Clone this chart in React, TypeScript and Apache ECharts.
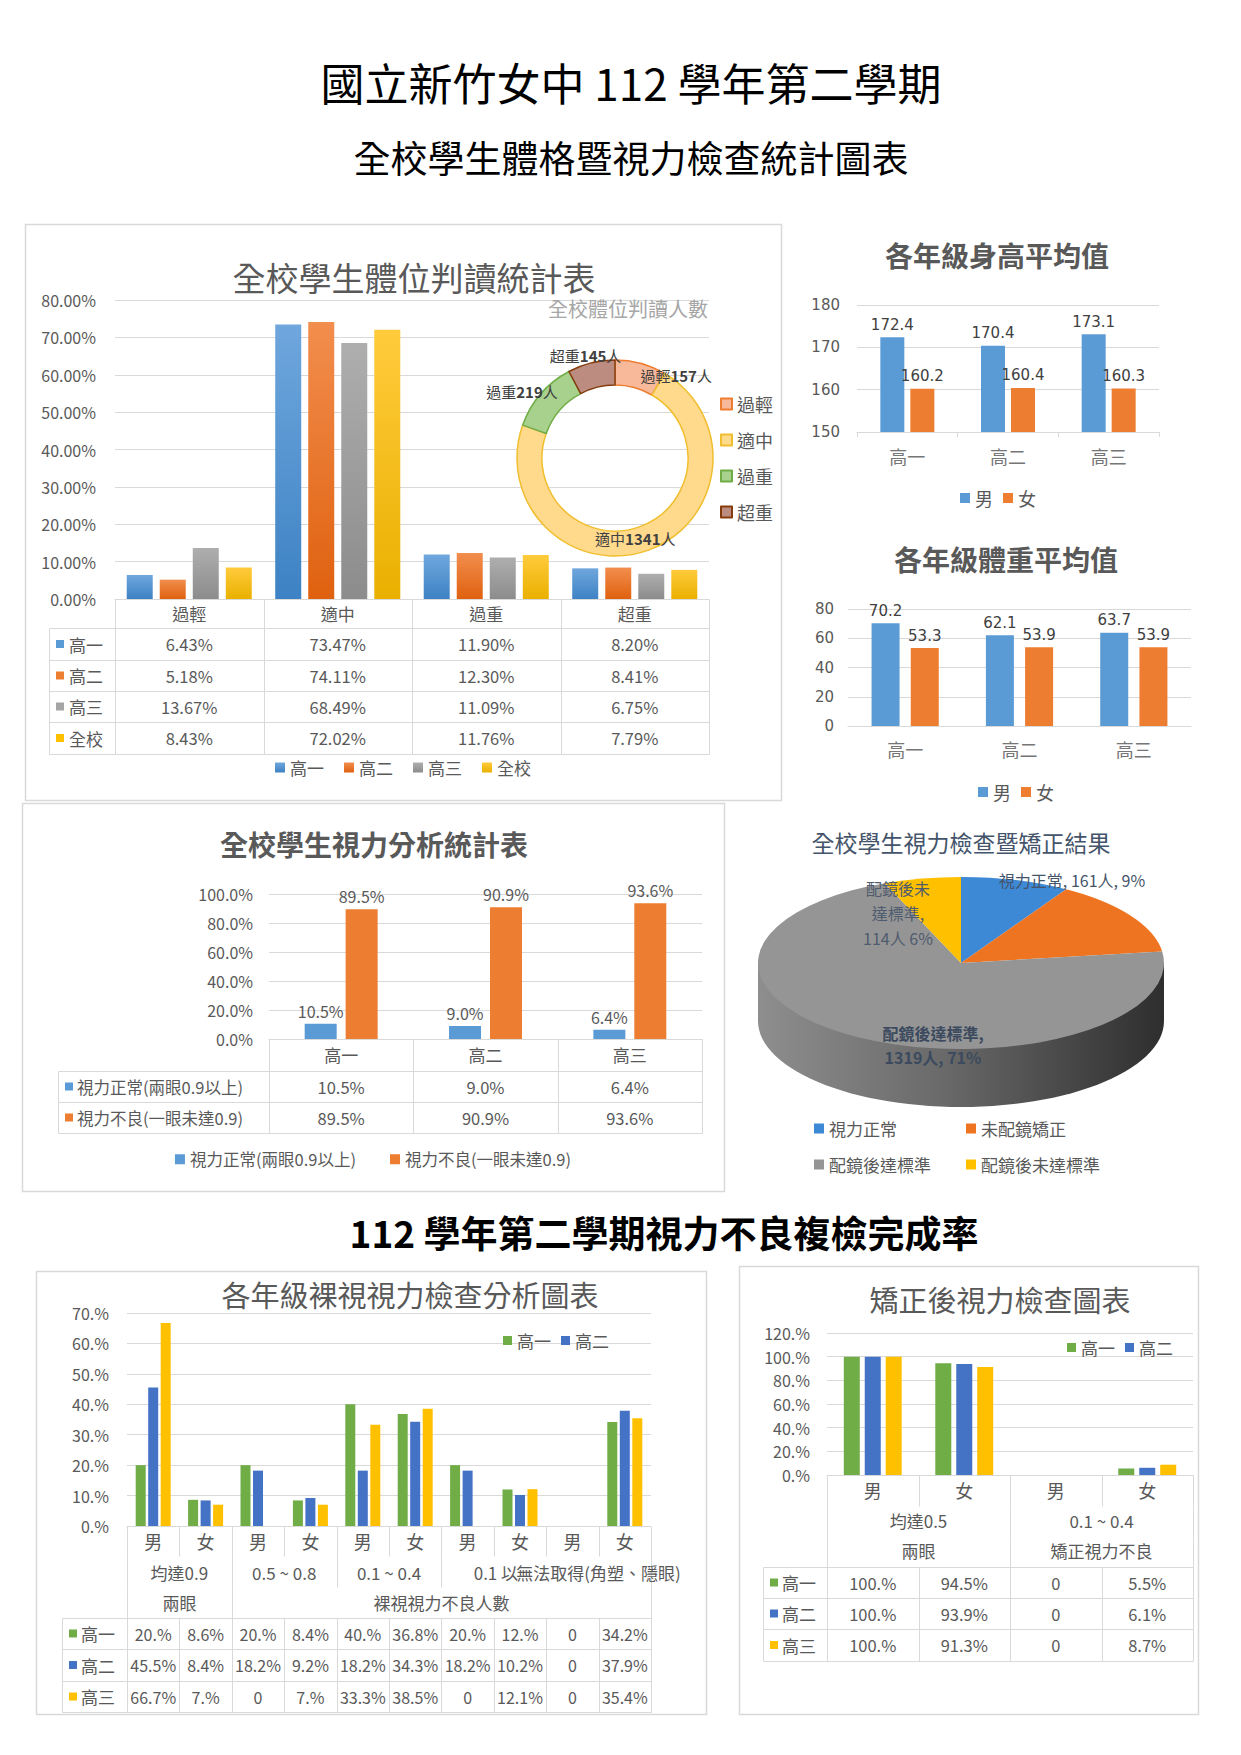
import React, { useEffect, useRef } from 'react';
import * as echarts from 'echarts';

const FONT = "'Noto Sans CJK TC', 'Noto Sans', sans-serif";
const NUM_FONT = "'DejaVu Sans', 'Noto Sans CJK TC', sans-serif";
const TXT = '#595959';
const LINE = '#D9D9D9';
const BLUE = '#5B9BD5';
const ORANGE = '#ED7D31';

// ---------------- data ----------------
const bodyCats = ['過輕', '適中', '過重', '超重'];
const bodyGrades = ['高一', '高二', '高三', '全校'];
const body1 = [6.43, 73.47, 11.9, 8.2];
const body2 = [5.18, 74.11, 12.3, 8.41];
const body3 = [13.67, 68.49, 11.09, 6.75];
const bodyAll = [8.43, 72.02, 11.76, 7.79];
const bodyCountNames = ['過輕', '適中', '過重', '超重'];
const bodyCounts = [157, 1341, 219, 145];

const gradeCats = ['高一', '高二', '高三'];
const heightMale = [172.4, 170.4, 173.1];
const heightFemale = [160.2, 160.4, 160.3];
const weightMale = [70.2, 62.1, 63.7];
const weightFemale = [53.3, 53.9, 53.9];

const visionSeriesNames = ['視力正常(兩眼0.9以上)', '視力不良(一眼未達0.9)'];
const visionNormal = [10.5, 9.0, 6.4];
const visionPoor = [89.5, 90.9, 93.6];

const corrNames = ['視力正常', '未配鏡矯正', '配鏡後達標準', '配鏡後未達標準'];
const corrCounts = [161, 264, 1319, 114];
const corrPct = [9, 14, 71, 6];

const nakedSex = ['男', '女', '男', '女', '男', '女', '男', '女', '男', '女'];
const nakedGroups = ['均達0.9', '0.5 ~ 0.8', '0.1 ~ 0.4', '0.1 以', '無法取得(角塑、隱眼)'];
const nakedTop = ['兩眼', '裸視視力不良人數'];
const naked1 = [20, 8.6, 20, 8.4, 40, 36.8, 20, 12, 0, 34.2];
const naked2 = [45.5, 8.4, 18.2, 9.2, 18.2, 34.3, 18.2, 10.2, 0, 37.9];
const naked3 = [66.7, 7, 0, 7, 33.3, 38.5, 0, 12.1, 0, 35.4];

const corrSex = ['男', '女', '男', '女'];
const corrGroups = ['均達0.5', '0.1 ~ 0.4'];
const corrTop = ['兩眼', '矯正視力不良'];
const corr1 = [100, 94.5, 0, 5.5];
const corr2 = [100, 93.9, 0, 6.1];
const corr3 = [100, 91.3, 0, 8.7];

// ---------------- helpers ----------------
const pctTxt = (v: number) => (v === 0 ? '0' : Number.isInteger(v) ? `${v}.%` : `${v}%`);
const ln = (x1: number, y1: number, x2: number, y2: number) => ({
  type: 'line', silent: true,
  shape: { x1: Math.round(x1) + 0.5, y1: Math.round(y1) + 0.5, x2: Math.round(x2) + 0.5, y2: Math.round(y2) + 0.5 },
  style: { stroke: LINE, lineWidth: 1 },
});
const tx = (x: number, y: number, text: string, o: any = {}) => ({
  type: 'text', silent: true, x, y, z: 100,
  style: { text, fill: TXT, fontSize: 16, fontFamily: FONT, align: 'center', verticalAlign: 'middle', ...o },
});
const sq = (x: number, y: number, color: string, s = 8) => ({
  type: 'rect', silent: true, shape: { x, y: y - s / 2, width: s, height: s }, style: { fill: color },
});
const grad = (a: string, b: string) =>
  new echarts.graphic.LinearGradient(0, 0, 0, 1, [{ offset: 0, color: a }, { offset: 1, color: b }]);

// ---------------- chart 1: 體位 ----------------
function bodyOption() {
  const W = 756, gl = 90, gr = 72, gt = 76, gb = 201;
  const x1 = W - gr, colW = (x1 - gl) / bodyCats.length;
  const rows = [375, 404, 436, 467, 498, 530];
  const tl = 24;
  const solid = ['#5B9BD5', '#ED7D31', '#A5A5A5', '#FFC000'];
  const grads = [grad('#6FA7DD', '#3D82C4'), grad('#F28E4E', '#DF610F'), grad('#AEAEAE', '#8C8C8C'), grad('#FFCB3C', '#EAB000')];
  const g: any[] = [];
  for (let i = 1; i < rows.length; i++) g.push(ln(tl, rows[i], x1, rows[i]));
  for (let k = 0; k <= bodyCats.length; k++) g.push(ln(gl + k * colW, rows[0], gl + k * colW, rows[rows.length - 1]));
  g.push(ln(tl, rows[1], tl, rows[rows.length - 1]));
  [body1, body2, body3, bodyAll].forEach((arr, ri) => {
    const cy = (rows[ri + 1] + rows[ri + 2]) / 2;
    g.push(sq(tl + 7, cy, solid[ri]));
    g.push(tx(tl + 20, cy, bodyGrades[ri], { align: 'left', fontSize: 17 }));
    arr.forEach((v, ci) => g.push(tx(gl + (ci + 0.5) * colW, cy, v.toFixed(2) + '%', { fontSize: 16.5 })));
  });
  g.push(tx(389, 53, '全校學生體位判讀統計表', { fontSize: 33 }));
  g.push(tx(603, 84, '全校體位判讀人數', { fontSize: 20, fill: '#A6A6A6' }));
  const donutFill = ['#F8B99A', '#FFDA8C', '#A9D18E', '#BC8C80'];
  const donutBorder = ['#ED7D31', '#F0BE2E', '#70AD47', '#843C0C'];
  // label nudges (Excel best-fit placement)
  const nudge = [[38, 3], [-10, -3], [-26, -9], [-8, -17]];
  return {
    grid: { left: gl, right: gr, top: gt, bottom: gb },
    xAxis: {
      type: 'category', data: bodyCats,
      axisLine: { lineStyle: { color: LINE } }, axisTick: { show: false },
      axisLabel: { fontSize: 17, color: TXT, margin: 6, fontFamily: FONT },
    },
    yAxis: {
      type: 'value', min: 0, max: 80, interval: 10,
      axisLabel: { formatter: (v: number) => v.toFixed(2) + '%', fontSize: 16, color: TXT, margin: 19, fontFamily: FONT },
      splitLine: { lineStyle: { color: LINE } }, axisLine: { show: false },
    },
    legend: [
      {
        data: bodyGrades, left: 'center', top: 530, icon: 'rect', itemWidth: 10, itemHeight: 10, itemGap: 20,
        textStyle: { fontSize: 17, color: TXT, fontFamily: FONT },
      },
      {
        data: bodyCountNames, orient: 'vertical', left: 690, top: 166, icon: 'rect', itemWidth: 11, itemHeight: 11, itemGap: 18,
        textStyle: { fontSize: 18, color: TXT, fontFamily: FONT },
      },
    ],
    series: [
      ...[body1, body2, body3, bodyAll].map((d, i) => ({
        name: bodyGrades[i], type: 'bar', data: d, barWidth: 26, barGap: '27%',
        itemStyle: { color: grads[i] },
      })),
      {
        name: '全校體位判讀人數', type: 'pie', center: [590, 234], radius: [73, 98], startAngle: 90,
        avoidLabelOverlap: false,
        data: bodyCountNames.map((n, i) => ({
          name: n, value: bodyCounts[i],
          itemStyle: { color: donutFill[i], borderColor: donutBorder[i], borderWidth: 1.5 },
        })),
        label: {
          show: true, position: 'inside', color: '#404040', fontFamily: FONT, fontSize: 15,
          formatter: (p: any) => `{r|${p.name}}{n|${p.value}}{r|人}`,
          rich: {
            r: { fontSize: 15, fontWeight: 'normal', color: '#404040', fontFamily: FONT },
            n: { fontSize: 15, fontWeight: 'bold', color: '#404040', fontFamily: FONT },
          },
        },
        labelLine: { show: false },
        labelLayout: (p: any) => ({ dx: nudge[p.dataIndex][0], dy: nudge[p.dataIndex][1], hideOverlap: false }),
      },
    ],
    graphic: g,
  };
}

// ---------------- chart 2 / 3: 身高 體重 ----------------
function meanOption(opt: any) {
  return {
    grid: opt.grid,
    xAxis: {
      type: 'category', data: gradeCats,
      axisLine: { lineStyle: { color: LINE } },
      axisTick: { show: opt.ticks, length: 5, lineStyle: { color: LINE } },
      axisLabel: { fontSize: 18, color: '#767676', margin: opt.xMargin, fontFamily: FONT },
    },
    yAxis: {
      type: 'value', min: opt.min, max: opt.max, interval: opt.interval,
      axisLabel: { fontSize: 15, color: TXT, margin: opt.yMargin, fontFamily: NUM_FONT },
      splitLine: { lineStyle: { color: LINE } }, axisLine: { show: false },
    },
    legend: {
      data: ['男', '女'], left: opt.legendLeft, top: opt.legendTop, icon: 'rect', itemWidth: 10, itemHeight: 10, itemGap: 10,
      textStyle: { fontSize: 18, color: TXT, fontFamily: FONT },
    },
    series: [
      { name: '男', type: 'bar', data: opt.male, barWidth: opt.barWidth, barGap: opt.barGap, itemStyle: { color: BLUE },
        label: { show: true, position: 'top', fontSize: 15, color: '#404040', fontFamily: NUM_FONT } },
      { name: '女', type: 'bar', data: opt.female, barWidth: opt.barWidth, barGap: opt.barGap, itemStyle: { color: ORANGE },
        label: { show: true, position: 'top', fontSize: 15, color: '#404040', fontFamily: NUM_FONT } },
    ],
    graphic: [tx(opt.titleX, opt.titleY, opt.title, { fontSize: 28, fontWeight: 'bold' })],
  };
}

// ---------------- chart 4: 視力分析 ----------------
function visionOption() {
  const W = 702, gl = 247, gr = 22, gt = 91, gb = 152;
  const x1 = W - gr, colW = (x1 - gl) / gradeCats.length;
  const rows = [236, 268, 299, 330];
  const tl = 36;
  const cols = [BLUE, ORANGE];
  const g: any[] = [];
  for (let i = 1; i < rows.length; i++) g.push(ln(tl, rows[i], x1, rows[i]));
  for (let k = 0; k <= gradeCats.length; k++) g.push(ln(gl + k * colW, rows[0], gl + k * colW, rows[3]));
  g.push(ln(tl, rows[1], tl, rows[3]));
  [visionNormal, visionPoor].forEach((arr, ri) => {
    const cy = (rows[ri + 1] + rows[ri + 2]) / 2;
    g.push(sq(tl + 7, cy, cols[ri]));
    g.push(tx(tl + 19, cy, visionSeriesNames[ri], { align: 'left', fontSize: 16.5 }));
    arr.forEach((v, ci) => g.push(tx(gl + (ci + 0.5) * colW, cy, v.toFixed(1) + '%', { fontSize: 16.5 })));
  });
  g.push(tx(352, 41, '全校學生視力分析統計表', { fontSize: 28, fontWeight: 'bold' }));
  const lab = { show: true, position: 'top', fontSize: 16, color: TXT, fontFamily: FONT, formatter: (p: any) => p.value.toFixed(1) + '%' };
  return {
    grid: { left: gl, right: gr, top: gt, bottom: gb },
    xAxis: {
      type: 'category', data: gradeCats,
      axisLine: { lineStyle: { color: LINE } }, axisTick: { show: false },
      axisLabel: { fontSize: 17, color: TXT, margin: 7, fontFamily: FONT },
    },
    yAxis: {
      type: 'value', min: 0, max: 100, interval: 20,
      axisLabel: { formatter: (v: number) => v.toFixed(1) + '%', fontSize: 16, color: TXT, margin: 16, fontFamily: FONT },
      splitLine: { lineStyle: { color: LINE } }, axisLine: { show: false },
    },
    legend: {
      data: visionSeriesNames, left: 'center', top: 343, icon: 'rect', itemWidth: 10, itemHeight: 10, itemGap: 34,
      textStyle: { fontSize: 16.5, color: TXT, fontFamily: FONT },
    },
    series: [
      { name: visionSeriesNames[0], type: 'bar', data: visionNormal, barWidth: 32, barGap: '28%', itemStyle: { color: BLUE }, label: lab },
      { name: visionSeriesNames[1], type: 'bar', data: visionPoor, barWidth: 32, barGap: '28%', itemStyle: { color: ORANGE }, label: lab },
    ],
    graphic: g,
  };
}

// ---------------- chart 5: 3D pie ----------------
function pieOption() {
  const cx = 222, cy = 160, rx = 203, ry = 86, h = 58;
  const total = corrCounts.reduce((a, b) => a + b, 0);
  const cum = corrCounts.map((_, i) => corrCounts.slice(0, i).reduce((a, b) => a + b, 0));
  const colors = ['#3E89D6', '#EE7421', '#959595', '#FFC000'];
  const sidePts: number[][] = [[cx - rx, cy], [cx + rx, cy]];
  for (let j = 0; j <= 60; j++) {
    const t = (Math.PI * j) / 60;
    sidePts.push([cx + rx * Math.cos(t), cy + h + ry * Math.sin(t)]);
  }
  const sideFill = new echarts.graphic.LinearGradient(0, 0, 1, 0, [
    { offset: 0, color: '#8E8E8E' }, { offset: 0.45, color: '#6A6A6A' }, { offset: 1, color: '#2E2E2E' },
  ]);
  const g: any[] = [
    tx(222, 39, '全校學生視力檢查暨矯正結果', { fontSize: 23, fill: '#44546A' }),
    tx(333, 77, `${corrNames[0]}, ${corrCounts[0]}人, ${corrPct[0]}%`, { fontSize: 16, fill: '#44546A' }),
    tx(159, 110, `配鏡後未\n達標準,\n${corrCounts[3]}人 ${corrPct[3]}%`, { fontSize: 16, fill: '#4F5B6E', lineHeight: 25 }),
    tx(194, 242, `${corrNames[2]},\n${corrCounts[2]}人, ${corrPct[2]}%`, { fontSize: 16, fill: '#3B4A5E', fontWeight: 'bold', lineHeight: 24 }),
  ];
  return {
    legend: [
      { data: [corrNames[0], corrNames[1]], left: 70, top: 312, icon: 'rect', itemWidth: 10, itemHeight: 10, itemGap: 69,
        textStyle: { fontSize: 17, color: TXT, fontFamily: FONT } },
      { data: [corrNames[2], corrNames[3]], left: 70, top: 348, icon: 'rect', itemWidth: 10, itemHeight: 10, itemGap: 35,
        textStyle: { fontSize: 17, color: TXT, fontFamily: FONT } },
    ],
    series: [
      {
        name: 'side', type: 'custom', coordinateSystem: 'none', silent: true, data: [[0]], z: 1,
        renderItem: () => ({ type: 'polygon', shape: { points: sidePts }, style: { fill: sideFill } }),
      },
      ...corrNames.map((n, i) => ({
        name: n, type: 'custom', coordinateSystem: 'none', silent: true, data: [[corrCounts[i]]], z: 2,
        itemStyle: { color: colors[i] },
        renderItem: (_p: any, api: any) => {
          const v = api.value(0);
          const a0 = -Math.PI / 2 + (cum[i] / total) * Math.PI * 2;
          const a1 = a0 + (v / total) * Math.PI * 2;
          return {
            type: 'sector', x: cx, y: cy, scaleX: 1, scaleY: ry / rx,
            shape: { cx: 0, cy: 0, r: rx, r0: 0, startAngle: a0, endAngle: a1, clockwise: true },
            style: { fill: colors[i] },
          };
        },
      })),
    ],
    graphic: g,
  };
}

// ---------------- chart 6 / 7: 裸視 / 矯正後 ----------------
function multiOption(cfg: any) {
  const { W, gl, gr, gt, gb, sex, series, yMax, yInt, rowsY, tl, barWidth, barGap, title, titleX, titleY, legendLeft, legendTop } = cfg;
  const x1 = W - gr, n = sex.length, colW = (x1 - gl) / n;
  const xk = (k: number) => gl + k * colW;
  const g: any[] = [];
  const [yA, yB, yC, yD] = cfg.levels;
  for (let k = 0; k <= n; k++) g.push(ln(xk(k), yA, xk(k), yB));
  cfg.groupLines.forEach((k: number) => g.push(ln(xk(k), yB, xk(k), yC)));
  cfg.topLines.forEach((k: number) => g.push(ln(xk(k), yC, xk(k), yD)));
  rowsY.forEach((y: number) => g.push(ln(tl, y, x1, y)));
  for (let k = 0; k <= n; k++) g.push(ln(xk(k), rowsY[0], xk(k), rowsY[rowsY.length - 1]));
  g.push(ln(tl, rowsY[0], tl, rowsY[rowsY.length - 1]));
  cfg.groupLabels(g, xk);
  cfg.topLabels(g, xk);
  const colors = ['#70AD47', '#4472C4', '#FFC000'];
  const names = ['高一', '高二', '高三'];
  series.forEach((arr: number[], ri: number) => {
    const cy = (rowsY[ri] + rowsY[ri + 1]) / 2;
    g.push(sq(tl + 7, cy, colors[ri]));
    g.push(tx(tl + 19, cy, names[ri], { align: 'left', fontSize: 17 }));
    arr.forEach((v, ci) => g.push(tx(xk(ci + 0.5), cy, pctTxt(v), { fontSize: cfg.cellFont })));
  });
  g.push(tx(titleX, titleY, title, { fontSize: 29 }));
  return {
    grid: { left: gl, right: gr, top: gt, bottom: gb },
    xAxis: {
      type: 'category', data: sex,
      axisLine: { lineStyle: { color: LINE } }, axisTick: { show: false },
      axisLabel: { fontSize: 18, color: TXT, margin: 6, fontFamily: FONT, interval: 0 },
    },
    yAxis: {
      type: 'value', min: 0, max: yMax, interval: yInt,
      axisLabel: { formatter: (v: number) => `${v}.%`, fontSize: 16, color: TXT, margin: cfg.yMargin, fontFamily: FONT },
      splitLine: { lineStyle: { color: LINE } }, axisLine: { show: false },
    },
    legend: {
      data: ['高一', '高二'], left: legendLeft, top: legendTop, icon: 'rect', itemWidth: 9, itemHeight: 9, itemGap: 10,
      textStyle: { fontSize: 17, color: TXT, fontFamily: FONT },
    },
    series: series.map((d: number[], i: number) => ({
      name: names[i], type: 'bar', data: d, barWidth, barGap, itemStyle: { color: colors[i] },
    })),
    graphic: g,
  };
}

function nakedOption() {
  return multiOption({
    W: 670, gl: 91, gr: 55, gt: 42, gb: 188, yMargin: 18, cellFont: 16,
    sex: nakedSex, series: [naked1, naked2, naked3],
    yMax: 70, yInt: 10, levels: [255, 285, 316, 347], rowsY: [347, 378, 410, 441], tl: 26,
    groupLines: [0, 2, 4, 6, 10], topLines: [0, 2, 10],
    barWidth: 10, barGap: '25%',
    title: '各年級裸視視力檢查分析圖表', titleX: 374, titleY: 23, legendLeft: 462, legendTop: 56,
    groupLabels: (g: any[], xk: (k: number) => number) => {
      const y = 301;
      const fs = 17;
      const lastW = 9 * fs + 2 * 6;
      nakedGroups.forEach((t, gi) => {
        if (gi === 3) {
          g.push(tx(xk(9) - lastW / 2 + 2, y, t, { align: 'right', fontSize: fs }));
        } else {
          g.push(tx(xk(gi * 2 + 1), y, t, { fontSize: fs }));
        }
      });
    },
    topLabels: (g: any[], xk: (k: number) => number) => {
      const y = 331;
      g.push(tx(xk(1), y, nakedTop[0], { fontSize: 17 }));
      g.push(tx(xk(6), y, nakedTop[1], { fontSize: 17 }));
    },
  });
}

function corrOption() {
  return multiOption({
    W: 459, gl: 88, gr: 5, gt: 67, gb: 239, yMargin: 17, cellFont: 16.5,
    sex: corrSex, series: [corr1, corr2, corr3],
    yMax: 120, yInt: 20, levels: [209, 240, 270, 301], rowsY: [301, 332, 363, 395], tl: 24,
    groupLines: [0, 2, 4], topLines: [0, 2, 4],
    barWidth: 16, barGap: '31%',
    title: '矯正後視力檢查圖表', titleX: 261, titleY: 33, legendLeft: 323, legendTop: 68,
    groupLabels: (g: any[], xk: (k: number) => number) => {
      corrGroups.forEach((t, gi) => g.push(tx(xk(gi * 2 + 1), 254, t, { fontSize: 17 })));
    },
    topLabels: (g: any[], xk: (k: number) => number) => {
      corrTop.forEach((t, gi) => g.push(tx(xk(gi * 2 + 1), 284, t, { fontSize: 17 })));
    },
  });
}

// ---------------- page ----------------
function pageOption() {
  const box = (x: number, y: number, w: number, h: number) => ({
    type: 'rect', silent: true, shape: { x: x + 0.5, y: y + 0.5, width: w, height: h },
    style: { fill: 'none', stroke: LINE, lineWidth: 1.5 },
  });
  return {
    graphic: [
      tx(631, 82, '國立新竹女中 112 學年第二學期', { fontSize: 44, fill: '#000' }),
      tx(631, 157, '全校學生體格暨視力檢查統計圖表', { fontSize: 37, fill: '#000' }),
      tx(664, 1232, '112 學年第二學期視力不良複檢完成率', { fontSize: 37, fill: '#000', fontWeight: 'bold' }),
      box(25, 224, 756, 576),
      box(22, 803, 702, 388),
      box(36, 1271, 670, 443),
      box(739, 1266, 459, 448),
    ],
  };
}

function Chart({ option, left, top, width, height }: { option: any; left: number; top: number; width: number; height: number }) {
  const ref = useRef<HTMLDivElement>(null);
  useEffect(() => {
    if (!ref.current) return;
    const chart = echarts.init(ref.current, null, { renderer: 'svg' });
    chart.setOption({ animation: false, textStyle: { fontFamily: FONT }, ...option });
    return () => chart.dispose();
  }, [option]);
  return <div ref={ref} style={{ position: 'absolute', left, top, width, height }} />;
}

const OPT_PAGE = pageOption();
const OPT_BODY = bodyOption();
const OPT_HEIGHT = meanOption({
  grid: { left: 72, right: 82, top: 81, bottom: 92 }, ticks: true, xMargin: 15, yMargin: 17,
  min: 150, max: 180, interval: 10, male: heightMale, female: heightFemale, barWidth: 24, barGap: '25%',
  legendLeft: 170, legendTop: 260, title: '各年級身高平均值', titleX: 212, titleY: 31,
});
const OPT_WEIGHT = meanOption({
  grid: { left: 63, right: 50, top: 85, bottom: 88 }, ticks: false, xMargin: 14, yMargin: 14,
  min: 0, max: 80, interval: 20, male: weightMale, female: weightFemale, barWidth: 28, barGap: '40%',
  legendLeft: 188, legendTop: 254, title: '各年級體重平均值', titleX: 221, titleY: 35,
});
const OPT_VISION = visionOption();
const OPT_PIE = pieOption();
const OPT_NAKED = nakedOption();
const OPT_CORR = corrOption();

export default function App() {
  return (
    <div style={{ position: 'absolute', left: 0, top: 0, width: 1241, height: 1755, background: '#fff', overflow: 'hidden' }}>
      <Chart option={OPT_PAGE} left={0} top={0} width={1241} height={1755} />
      <Chart option={OPT_BODY} left={25} top={224} width={756} height={576} />
      <Chart option={OPT_HEIGHT} left={785} top={224} width={456} height={300} />
      <Chart option={OPT_WEIGHT} left={785} top={524} width={456} height={290} />
      <Chart option={OPT_VISION} left={22} top={803} width={702} height={388} />
      <Chart option={OPT_PIE} left={739} top={803} width={502} height={388} />
      <Chart option={OPT_NAKED} left={36} top={1271} width={670} height={443} />
      <Chart option={OPT_CORR} left={739} top={1266} width={459} height={448} />
    </div>
  );
}
